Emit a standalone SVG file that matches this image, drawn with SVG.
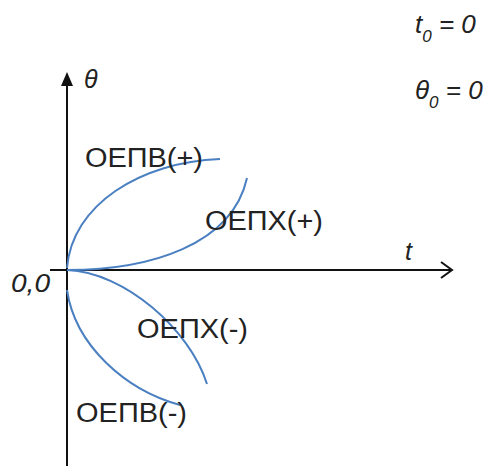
<svg xmlns="http://www.w3.org/2000/svg" width="489" height="466" viewBox="0 0 489 466">
<style>
.ax{stroke:#111;stroke-width:2;fill:none}
.cv{stroke:#4a7fc1;stroke-width:2;fill:none}
.lb{font-family:"Liberation Sans",Arial,sans-serif;font-size:27px;fill:#222}
.it{font-family:"Liberation Sans",Arial,sans-serif;font-style:italic;fill:#222}
</style>
<g id="connectors">
<line class="ax" x1="67" y1="466" x2="67" y2="74"/>
<path d="M61,86 L67,72 L73,86 z" fill="#111"/>
<line class="ax" x1="50" y1="270" x2="451" y2="270"/>
<path class="ax" d="M441,262 L452,270 L441,278"/>
</g>
<g id="curve-oepv-plus"><path class="cv" d="M67,268 C72,205 140,162 220,159"/></g>
<g id="curve-oepx-plus"><path class="cv" d="M67,270 C150,270 232,245 247,178"/></g>
<g id="curve-oepx-minus"><path class="cv" d="M67,270 C125,272 190,330 207,384"/></g>
<g id="curve-oepv-minus"><path class="cv" d="M67,290 C75,345 125,390 180,405"/></g>
<g id="label-oepv-plus"><text class="lb" x="85" y="167" textLength="118" lengthAdjust="spacingAndGlyphs">ОЕПВ(+)</text></g>
<g id="label-oepx-plus"><text class="lb" x="205" y="230" textLength="118" lengthAdjust="spacingAndGlyphs">ОЕПХ(+)</text></g>
<g id="label-oepx-minus"><text class="lb" x="137" y="338" textLength="111" lengthAdjust="spacingAndGlyphs">ОЕПХ(-)</text></g>
<g id="label-oepv-minus"><text class="lb" x="76" y="422" textLength="111" lengthAdjust="spacingAndGlyphs">ОЕПВ(-)</text></g>
<g id="label-origin"><text class="it" x="11" y="292" font-size="26" textLength="39" lengthAdjust="spacingAndGlyphs">0,0</text></g>
<g id="label-theta"><text class="it" x="84" y="88" font-size="25" font-family="'Liberation Serif',serif">θ</text></g>
<g id="label-t"><text class="it" x="405" y="260" font-size="25">t</text></g>
<g id="label-t0"><text class="it" x="415" y="33" font-size="26">t<tspan font-size="17" dy="9">0</tspan><tspan dy="-9"> = 0</tspan></text></g>
<g id="label-theta0"><text class="it" x="415" y="99" font-size="26">θ<tspan font-size="17" dy="9">0</tspan><tspan dy="-9"> = 0</tspan></text></g>
</svg>
